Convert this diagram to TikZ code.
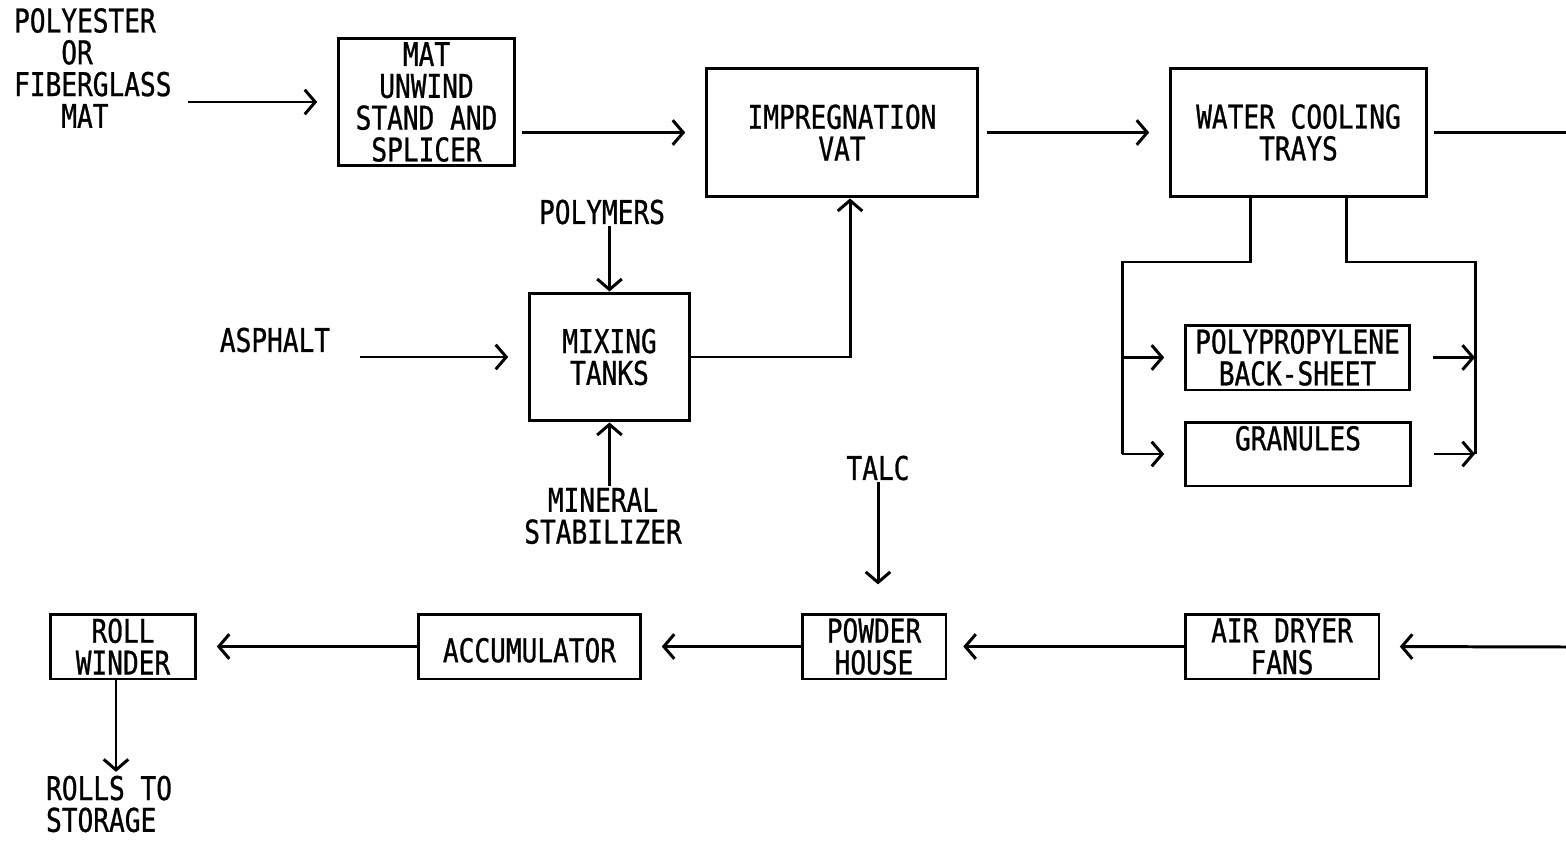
\documentclass[tikz,border=0pt]{standalone}
\usepackage{fontspec}
\setmainfont{DejaVu Sans Mono}[FakeStretch=0.8,FakeBold=0.8]
\usetikzlibrary{arrows.meta}

\begin{document}
\begin{tikzpicture}[x=0.02cm,y=-0.02cm,
    every node/.style={font=\fontsize{18.6}{18.1}\selectfont},
    box/.style={draw,line width=1.7pt,inner sep=0pt,align=center},
    lbl/.style={inner sep=1pt},
    wire/.style={line width=1.7pt},
    flow/.style={line width=1.7pt,-{Straight Barb[length=6pt,width=14pt,line width=1.7pt]},shorten >=11pt}]
    \useasboundingbox (0,0) rectangle (1566,842);
    \node[box,minimum width=3.54cm,minimum height=2.56cm] (mat) at (426.5,102) {MAT\\UNWIND\\STAND AND\\SPLICER};
    \node[box,minimum width=5.44cm,minimum height=2.58cm] (vat) at (842,132.5) {IMPREGNATION\\VAT};
    \node[box,minimum width=5.14cm,minimum height=2.58cm] (cooling) at (1298.5,132.5) {WATER COOLING\\TRAYS};
    \node[box,minimum width=3.22cm,minimum height=2.56cm] (mixing) at (609.5,357) {MIXING\\TANKS};
    \node[box,minimum width=4.5cm,minimum height=1.3cm] (backsheet) at (1297.5,357.5) {POLYPROPYLENE\\BACK-SHEET};
    \node[box,minimum width=4.52cm,minimum height=1.28cm] (granules) at (1298,454) {GRANULES\\~};
    \node[box,minimum width=2.92cm,minimum height=1.3cm] (winder) at (123,646.5) {ROLL\\WINDER};
    \node[box,minimum width=4.46cm,minimum height=1.3cm] (accum) at (529.5,646.5) {~\\ACCUMULATOR};
    \node[box,minimum width=2.88cm,minimum height=1.3cm] (powder) at (874,646.5) {POWDER\\HOUSE};
    \node[box,minimum width=3.88cm,minimum height=1.3cm] (dryer) at (1282,646.5) {AIR DRYER\\FANS};

    \node[lbl,anchor=west,align=left] (polyester) at (12,68) {POLYESTER\\\hphantom{POL}OR\\FIBERGLASS\\\hphantom{POL}MAT};
    \node[lbl] (polymers) at (602,212) {POLYMERS};
    \node[lbl] (asphalt) at (275,340) {ASPHALT};
    \node[lbl,align=center] (mineral) at (603,516) {MINERAL\\STABILIZER};
    \node[lbl] (talc) at (878,468) {TALC};
    \node[lbl,anchor=west,align=left] (rolls) at (44,804) {ROLLS TO\\STORAGE};

    \coordinate (out1) at (1566,132.5);
    \coordinate (out2) at (1566,647);
    \coordinate (tl) at (1250,262);
    \coordinate (tr) at (1346,262);
    \coordinate (bl) at (1122,262);
    \coordinate (br) at (1475,262);

    \draw[flow,shorten <=8pt] (polyester.east |- mat.west) -- (mat.west);
    \draw[flow,shorten <=3pt] (mat.east |- vat.west) -- (vat.west);
    \draw[flow,shorten <=4pt] (vat.east) -- (cooling.west);
    \draw[wire,shorten <=3pt] (cooling.east) -- (out1);
    \draw[flow,shorten <=16pt] (asphalt.east |- mixing.west) -- (mixing.west);
    \draw[flow,shorten >=0pt] (polymers.south -| mixing.north) -- (mixing.north);
    \draw[flow,shorten >=0pt] (mineral.north -| mixing.south) -- (mixing.south);
    \draw[flow,shorten >=0pt] (mixing.east) -| ([xshift=0.16cm]vat.south);

    \draw[wire] (cooling.south -| tl) -- (tl) -- (bl) -- (bl |- granules);
    \draw[wire] (cooling.south -| tr) -- (tr) -- (br) -- (br |- granules);
    \draw[flow] (bl |- backsheet) -- (backsheet.west);
    \draw[flow] (bl |- granules) -- (granules.west);
    \draw[flow,shorten <=12pt,shorten >=0pt] (backsheet.east) -- (br |- backsheet);
    \draw[flow,shorten <=12pt,shorten >=0pt] (granules.east) -- (br |- granules);

    \draw[flow,shorten >=16pt] (talc.south) -- (talc.south |- powder.north);
    \draw[flow] (out2) -- (dryer.east);
    \draw[flow,shorten >=9pt] (dryer.west) -- (powder.east);
    \draw[flow] (powder.west) -- (accum.east);
    \draw[flow] (accum.west) -- (winder.east);
    \draw[flow,shorten >=1pt] ([xshift=-0.14cm]winder.south) -- ([xshift=-0.14cm]winder.south |- rolls.north);
\end{tikzpicture}
\end{document}
